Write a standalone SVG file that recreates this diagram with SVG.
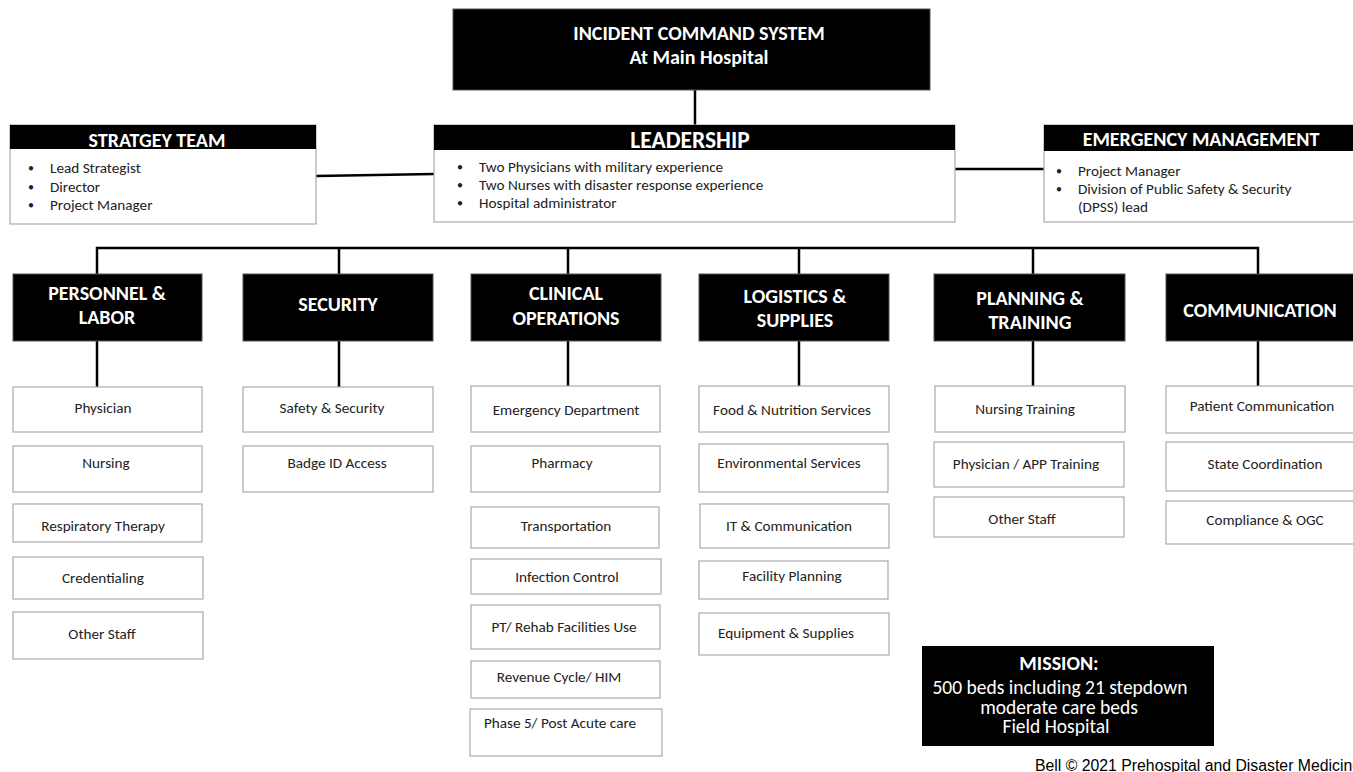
<svg xmlns="http://www.w3.org/2000/svg" width="1353" height="772" viewBox="0 0 1353 772">
<style>
text{font-family:Carlito,Lato,"Liberation Sans",sans-serif;}
.blk{fill:#000;stroke:#555;stroke-width:1}
.hdr{fill:#fff;font-weight:bold;text-anchor:middle;font-size:20px}
.pan{fill:#fff;stroke:#aaa;stroke-width:1.2}
.sub{fill:#fff;stroke:#aaa;stroke-width:1.2}
.st{fill:#222;font-size:15.2px;text-anchor:middle}
.bl{fill:#222;font-size:15.2px}
.dot{fill:#222;font-size:12px}
.ln{stroke:#000;stroke-width:2.5;fill:none}
.ms{fill:#fff;font-size:20px;text-anchor:middle}
</style>
<g id="connectors">
<path class="ln" d="M695 90V125"/>
<path class="ln" d="M316 176L434 174"/>
<path class="ln" d="M955 169H1044"/>
<path class="ln" d="M97 274V248H1258V274"/>
<path class="ln" d="M339 248V274M568 248V274M799 248V274M1033 248V274"/>
<path class="ln" d="M97 341V387M339 341V387M568 341V387M799 341V387M1033 341V387M1258 341V387"/>
</g>
<g id="ics">
<rect class="blk" x="453" y="9" width="477" height="81"/>
<text class="hdr" x="699" y="40">INCIDENT COMMAND SYSTEM</text>
<text class="hdr" x="699" y="64">At Main Hospital</text>
</g>
<g id="strategy">
<rect class="pan" x="10" y="125" width="306" height="99"/>
<rect x="10" y="125" width="306" height="24" fill="#000"/>
<text class="hdr" x="157" y="147">STRATGEY TEAM</text>
<text class="dot" x="28" y="172">•</text><text class="bl" x="50" y="173">Lead Strategist</text>
<text class="dot" x="28" y="191">•</text><text class="bl" x="50" y="192">Director</text>
<text class="dot" x="28" y="209">•</text><text class="bl" x="50" y="210">Project Manager</text>
</g>
<g id="leadership">
<rect class="pan" x="434" y="125" width="521" height="97"/>
<rect x="434" y="125" width="521" height="25" fill="#000"/>
<text class="hdr" x="690" y="148" style="font-size:23.5px">LEADERSHIP</text>
<text class="dot" x="457" y="171">•</text><text class="bl" x="479" y="172">Two Physicians with military experience</text>
<text class="dot" x="457" y="189">•</text><text class="bl" x="479" y="190">Two Nurses with disaster response experience</text>
<text class="dot" x="457" y="207">•</text><text class="bl" x="479" y="208">Hospital administrator</text>
</g>
<g id="emergency">
<rect class="pan" x="1044" y="125" width="315" height="97"/>
<rect x="1044" y="125" width="315" height="26" fill="#000"/>
<text class="hdr" x="1201" y="146">EMERGENCY MANAGEMENT</text>
<text class="dot" x="1056" y="175">•</text><text class="bl" x="1078" y="176">Project Manager</text>
<text class="dot" x="1056" y="193">•</text><text class="bl" x="1078" y="194"> Division of Public Safety &amp; Security</text>
<text class="bl" x="1078" y="212">(DPSS) lead</text>
</g>
<g id="personnel">
<rect class="blk" x="13" y="274" width="189" height="67"/>
<text class="hdr" x="107" y="300">PERSONNEL &amp;</text>
<text class="hdr" x="107" y="324">LABOR</text>
</g>
<g id="security">
<rect class="blk" x="243" y="274" width="190" height="67"/>
<text class="hdr" x="338" y="311">SECURITY</text>
</g>
<g id="clinical">
<rect class="blk" x="471" y="274" width="190" height="67"/>
<text class="hdr" x="566" y="300">CLINICAL</text>
<text class="hdr" x="566" y="325">OPERATIONS</text>
</g>
<g id="logistics">
<rect class="blk" x="699" y="274" width="190" height="67"/>
<text class="hdr" x="795" y="303">LOGISTICS &amp;</text>
<text class="hdr" x="795" y="327">SUPPLIES</text>
</g>
<g id="planning">
<rect class="blk" x="934" y="274" width="191" height="67"/>
<text class="hdr" x="1030" y="305">PLANNING &amp;</text>
<text class="hdr" x="1030" y="329">TRAINING</text>
</g>
<g id="communication">
<rect class="blk" x="1166" y="274" width="195" height="67"/>
<text class="hdr" x="1260" y="317">COMMUNICATION</text>
</g>
<g id="p-physician"><rect class="sub" x="13" y="387" width="189" height="45"/><text class="st" x="103" y="413">Physician</text></g>
<g id="p-nursing"><rect class="sub" x="13" y="446" width="189" height="46"/><text class="st" x="106" y="468">Nursing</text></g>
<g id="p-resp"><rect class="sub" x="13" y="504" width="189" height="38"/><text class="st" x="103" y="531">Respiratory Therapy</text></g>
<g id="p-cred"><rect class="sub" x="13" y="557" width="190" height="42"/><text class="st" x="103" y="583">Credentialing</text></g>
<g id="p-other"><rect class="sub" x="13" y="612" width="190" height="47"/><text class="st" x="102" y="639">Other Staff</text></g>
<g id="s-safety"><rect class="sub" x="243" y="387" width="190" height="45"/><text class="st" x="332" y="413">Safety &amp; Security</text></g>
<g id="s-badge"><rect class="sub" x="243" y="446" width="190" height="46"/><text class="st" x="337" y="468">Badge ID Access</text></g>
<g id="c-ed"><rect class="sub" x="471" y="386" width="189" height="46"/><text class="st" x="566" y="415">Emergency Department</text></g>
<g id="c-pharm"><rect class="sub" x="471" y="446" width="189" height="46"/><text class="st" x="562" y="468">Pharmacy</text></g>
<g id="c-trans"><rect class="sub" x="471" y="507" width="188" height="41"/><text class="st" x="566" y="531">Transportation</text></g>
<g id="c-infect"><rect class="sub" x="471" y="559" width="190" height="35"/><text class="st" x="567" y="582">Infection Control</text></g>
<g id="c-pt"><rect class="sub" x="471" y="605" width="189" height="44"/><text class="st" x="564" y="632">PT/ Rehab Facilities Use</text></g>
<g id="c-rev"><rect class="sub" x="471" y="661" width="189" height="37"/><text class="st" x="559" y="682">Revenue Cycle/ HIM</text></g>
<g id="c-phase"><rect class="sub" x="470" y="709" width="192" height="47"/><text class="st" x="560" y="728">Phase 5/ Post Acute care</text></g>
<g id="l-food"><rect class="sub" x="699" y="386" width="190" height="46"/><text class="st" x="792" y="415">Food &amp; Nutrition Services</text></g>
<g id="l-env"><rect class="sub" x="699" y="444" width="189" height="48"/><text class="st" x="789" y="468">Environmental Services</text></g>
<g id="l-it"><rect class="sub" x="700" y="504" width="189" height="44"/><text class="st" x="789" y="531">IT &amp; Communication</text></g>
<g id="l-fac"><rect class="sub" x="699" y="561" width="189" height="38"/><text class="st" x="792" y="581">Facility Planning</text></g>
<g id="l-equip"><rect class="sub" x="699" y="613" width="190" height="42"/><text class="st" x="786" y="638">Equipment &amp; Supplies</text></g>
<g id="t-nursing"><rect class="sub" x="935" y="386" width="190" height="46"/><text class="st" x="1025" y="414">Nursing Training</text></g>
<g id="t-phys"><rect class="sub" x="934" y="442" width="190" height="45"/><text class="st" x="1026" y="469">Physician / APP Training</text></g>
<g id="t-other"><rect class="sub" x="934" y="497" width="190" height="40"/><text class="st" x="1022" y="524">Other Staff</text></g>
<g id="m-patient"><rect class="sub" x="1166" y="386" width="195" height="47"/><text class="st" x="1262" y="411">Patient Communication</text></g>
<g id="m-state"><rect class="sub" x="1166" y="442" width="195" height="49"/><text class="st" x="1265" y="469">State Coordination</text></g>
<g id="m-comp"><rect class="sub" x="1166" y="501" width="195" height="43"/><text class="st" x="1265" y="525">Compliance &amp; OGC</text></g>
<g id="mission">
<rect x="922" y="646" width="292" height="100" fill="#000"/>
<text class="ms" x="1059" y="670" font-weight="bold">MISSION:</text>
<text class="ms" x="1060" y="694" style="font-size:19.5px">500 beds including 21 stepdown</text>
<text class="ms" x="1059" y="714" style="font-size:19.5px">moderate care beds</text>
<text class="ms" x="1056" y="733" style="font-size:19.5px">Field Hospital</text>
</g>
<text x="1035" y="771" fill="#000" font-size="15.8" style="font-family:'Liberation Sans',Arial,sans-serif">Bell © 2021 Prehospital and Disaster Medicine</text>
</svg>
